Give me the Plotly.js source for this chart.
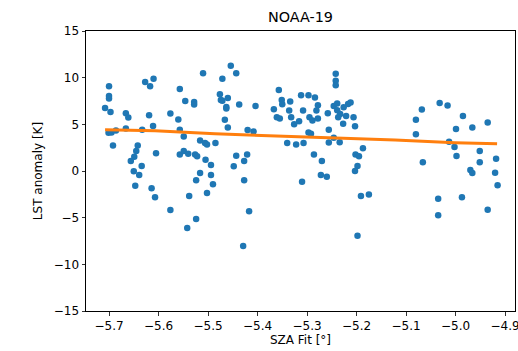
<!DOCTYPE html>
<html>
<head>
<meta charset="utf-8">
<script src="https://cdn.plot.ly/plotly-3.0.1.min.js"></script>
<style>html,body{margin:0;padding:0;background:#fff;}#chart{width:518px;height:351px;}</style>
</head>
<body>
<div id="chart"></div>
<script>
// Scatter: SZA fit (deg) vs LST anomaly (K)
const szaFit = [
  -5.700,-5.700,-5.700,-5.708,-5.697,-5.666,-5.661,-5.627,-5.617,-5.610,
  -5.619,-5.611,-5.701,-5.695,-5.686,-5.666,-5.633,-5.692,-5.642,-5.645,
  -5.649,-5.656,-5.634,-5.650,-5.639,-5.647,-5.614,-5.605,-5.607,
  -5.557,-5.546,-5.528,-5.528,-5.510,-5.576,-5.560,-5.557,-5.549,-5.516,
  -5.506,-5.502,-5.557,-5.549,-5.540,-5.526,-5.522,-5.505,-5.494,-5.516,
  -5.494,-5.524,-5.490,-5.502,-5.538,-5.576,-5.524,-5.542,-5.485,
  -5.454,-5.471,-5.443,-5.476,-5.474,-5.471,-5.460,-5.463,-5.463,-5.437,
  -5.404,-5.367,-5.466,-5.460,-5.420,-5.408,-5.443,-5.421,-5.427,-5.448,
  -5.427,-5.417,-5.429,
  -5.357,-5.351,-5.350,-5.334,-5.336,-5.361,-5.355,-5.332,-5.326,-5.316,
  -5.312,-5.297,-5.284,-5.308,-5.278,-5.281,-5.295,-5.289,-5.278,-5.258,
  -5.246,-5.242,-5.242,-5.242,-5.297,-5.292,-5.340,-5.322,-5.307,-5.286,
  -5.270,-5.272,-5.260,-5.310,-5.256,-5.256,-5.246,
  -5.239,-5.239,-5.233,-5.226,-5.217,-5.212,-5.237,-5.221,-5.206,-5.227,
  -5.203,-5.234,-5.187,-5.202,-5.195,-5.198,-5.203,-5.191,-5.175,-5.198,
  -5.032,-5.016,-5.068,-5.080,-5.080,-4.999,-5.013,-5.002,-4.998,-5.066,
  -5.035,-5.035,
  -4.985,-4.966,-4.935,-4.951,-4.951,-4.918,-4.970,-4.966,-4.920,-4.915,
  -4.987,-4.935
];
const lstAnomaly = [
  9.07,8.04,7.76,6.76,6.33,6.19,5.73,9.53,9.07,9.89,
  5.98,4.83,4.09,4.13,4.34,4.56,4.41,2.74,2.74,2.13,
  1.53,1.07,0.53,-0.03,-0.43,-1.57,-1.85,1.89,-2.81,
  8.78,7.50,7.40,7.12,10.46,6.16,5.52,4.41,3.70,3.28,
  2.99,2.85,1.78,2.13,1.85,1.78,1.57,1.21,0.64,-0.21,
  -0.43,-0.99,-1.42,-2.35,-2.67,-4.19,-5.15,-6.12,2.99,
  11.28,9.89,10.46,8.22,7.61,7.54,7.82,6.86,6.69,7.12,
  6.97,6.62,5.48,4.66,4.38,4.24,1.63,1.78,1.07,0.50,
  -0.99,-4.30,-8.04,
  8.68,7.61,7.15,7.44,6.48,5.76,5.62,5.76,5.02,5.34,
  8.11,8.11,7.87,6.48,7.04,6.48,5.76,5.41,5.62,6.19,
  6.97,10.43,9.68,9.18,4.13,3.98,2.99,2.85,2.99,1.78,
  1.07,-0.43,-0.61,-1.14,4.41,3.06,3.55,
  7.23,6.51,6.12,6.83,7.18,7.33,5.76,5.90,5.76,5.05,
  4.80,3.09,2.45,1.78,1.57,0.53,0.00,-2.67,-2.53,-6.94,
  7.29,7.01,6.58,5.48,3.95,4.51,3.13,2.56,1.60,0.93,
  -2.96,-4.73,
  5.90,4.66,5.20,2.13,0.93,1.31,0.11,-0.21,-0.18,-1.53,
  -2.81,-4.16
];
// Fitted trend line
const fitX = [-5.708,-5.607,-5.486,-5.365,-5.243,-5.122,-5.001,-4.916];
const fitY = [4.41,4.30,3.98,3.77,3.55,3.31,3.04,2.91];

const xTicks = [-5.7,-5.6,-5.5,-5.4,-5.3,-5.2,-5.1,-5.0,-4.9];
const yTicks = [-15,-10,-5,0,5,10,15];

const font = {family:'"DejaVu Sans", sans-serif', size:12, color:'#000'};

const traces = [
  {x: szaFit, y: lstAnomaly, type:'scatter', mode:'markers',
   marker:{color:'#1f77b4', size:6.5}, hoverinfo:'skip'},
  {x: fitX, y: fitY, type:'scatter', mode:'lines',
   line:{color:'#ff7f0e', width:3}, hoverinfo:'skip'}
];

const axisCommon = {
  showline:true, mirror:true, linecolor:'#000', linewidth:1,
  ticks:'outside', ticklen:3.5, tickwidth:0.8, tickcolor:'#000',
  showgrid:false, zeroline:false, tickfont:font, automargin:false,
  ticklabeloverflow:'allow'
};

const layout = {
  width:518, height:351,
  margin:{l:86, r:3, t:30.5, b:39.5},
  paper_bgcolor:'#fff', plot_bgcolor:'#fff',
  showlegend:false,
  font:font,
  title:{text:'NOAA-19', font:{family:'"DejaVu Sans", sans-serif', size:14.4, color:'#000'},
         x:0.58, xanchor:'center', y:1-17/351, yanchor:'middle'},
  xaxis:Object.assign({}, axisCommon, {
    range:[-5.7465,-4.8798], tickvals:xTicks, tickformat:'.1f',
    title:{text:'SZA Fit [°]', font:font, standoff:3}
  }),
  yaxis:Object.assign({}, axisCommon, {
    range:[-15,15], tickvals:yTicks,
    title:{text:'LST anomaly [K]', font:font, standoff:8}
  })
};

Plotly.newPlot('chart', traces, layout, {staticPlot:true, displayModeBar:false});
</script>
</body>
</html>
